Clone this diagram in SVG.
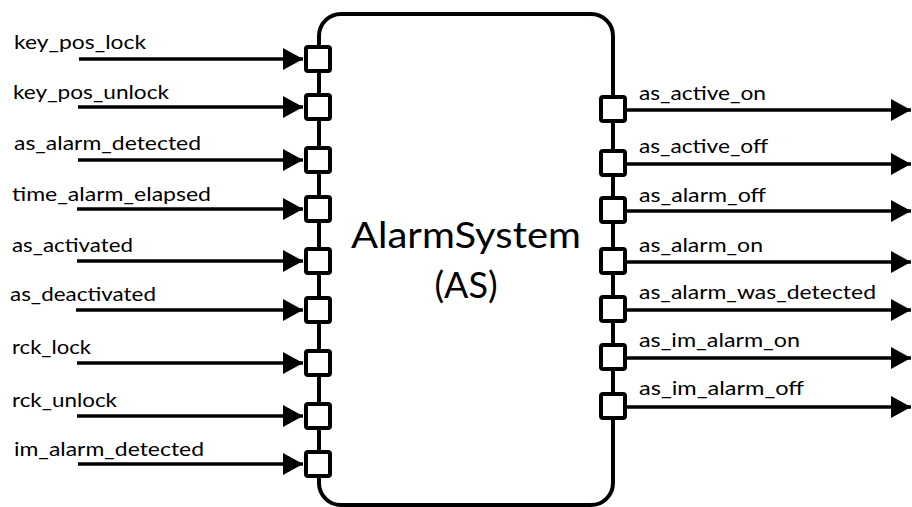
<svg xmlns="http://www.w3.org/2000/svg" width="912" height="507" viewBox="0 0 912 507">
  <style>
    .box { fill: #ffffff; stroke: #000000; stroke-width: 4; }
    .port { fill: #ffffff; stroke: #000000; stroke-width: 4; }
    .wire { stroke: #000000; stroke-width: 3.5; fill: none; marker-end: url(#arrow); }
    .lbl { font-family: Lato, "Open Sans", "Liberation Sans", sans-serif; font-size: 19px; fill: #000000; }
    .title { font-family: Lato, "Open Sans", "Liberation Sans", sans-serif; font-size: 36px; fill: #000000; text-anchor: middle; }
  </style>
  <defs>
    <marker id="arrow" markerUnits="userSpaceOnUse" markerWidth="20" markerHeight="22" refX="20" refY="11" orient="auto">
      <path d="M0,0 L20,11 L0,22 Z" fill="#000000"/>
    </marker>
  </defs>
  <rect width="912" height="507" fill="#ffffff"/>

  <!-- AlarmSystem block with its ports -->
  <g id="alarm-system">
    <rect class="box" x="319" y="14" width="294" height="491" rx="22" ry="22"/>
    <text class="title" x="466" y="248" textLength="230" lengthAdjust="spacingAndGlyphs">AlarmSystem</text>
    <text class="title" x="466" y="298">(AS)</text>
    <!-- input ports -->
    <rect class="port" x="306" y="47" width="24" height="24" rx="2"/>
    <rect class="port" x="306" y="95" width="24" height="24" rx="2"/>
    <rect class="port" x="306" y="148" width="24" height="24" rx="2"/>
    <rect class="port" x="306" y="197" width="24" height="24" rx="2"/>
    <rect class="port" x="306" y="249" width="24" height="24" rx="2"/>
    <rect class="port" x="306" y="298" width="24" height="24" rx="2"/>
    <rect class="port" x="306" y="351" width="24" height="24" rx="2"/>
    <rect class="port" x="306" y="404" width="24" height="24" rx="2"/>
    <rect class="port" x="306" y="452" width="24" height="24" rx="2"/>
    <!-- output ports -->
    <rect class="port" x="601" y="97" width="24" height="24" rx="2"/>
    <rect class="port" x="601" y="151" width="24" height="24" rx="2"/>
    <rect class="port" x="601" y="198" width="24" height="24" rx="2"/>
    <rect class="port" x="601" y="249" width="24" height="24" rx="2"/>
    <rect class="port" x="601" y="297" width="24" height="24" rx="2"/>
    <rect class="port" x="601" y="345" width="24" height="24" rx="2"/>
    <rect class="port" x="601" y="394" width="24" height="24" rx="2"/>
  </g>

  <!-- signal connectors -->
  <g id="connectors">
    <line class="wire" x1="79" y1="59" x2="303" y2="59"/>
    <line class="wire" x1="78" y1="107" x2="303" y2="107"/>
    <line class="wire" x1="78" y1="160" x2="303" y2="160"/>
    <line class="wire" x1="77" y1="209" x2="303" y2="209"/>
    <line class="wire" x1="77" y1="261" x2="303" y2="261"/>
    <line class="wire" x1="76" y1="310" x2="303" y2="310"/>
    <line class="wire" x1="77" y1="363" x2="303" y2="363"/>
    <line class="wire" x1="77" y1="416" x2="303" y2="416"/>
    <line class="wire" x1="78" y1="464" x2="303" y2="464"/>

    <line class="wire" x1="627" y1="110" x2="911" y2="110"/>
    <line class="wire" x1="627" y1="164" x2="911" y2="164"/>
    <line class="wire" x1="627" y1="211" x2="911" y2="211"/>
    <line class="wire" x1="627" y1="262" x2="911" y2="262"/>
    <line class="wire" x1="627" y1="310" x2="911" y2="310"/>
    <line class="wire" x1="627" y1="358" x2="911" y2="358"/>
    <line class="wire" x1="627" y1="407" x2="911" y2="407"/>
  </g>

  <!-- signal labels -->
  <g id="labels">
    <text class="lbl" x="14" y="49" textLength="132" lengthAdjust="spacingAndGlyphs">key_pos_lock</text>
    <text class="lbl" x="13" y="99" textLength="156" lengthAdjust="spacingAndGlyphs">key_pos_unlock</text>
    <text class="lbl" x="14" y="150" textLength="187" lengthAdjust="spacingAndGlyphs">as_alarm_detected</text>
    <text class="lbl" x="12" y="201" textLength="199" lengthAdjust="spacingAndGlyphs">time_alarm_elapsed</text>
    <text class="lbl" x="12" y="252" textLength="121" lengthAdjust="spacingAndGlyphs">as_activated</text>
    <text class="lbl" x="10" y="301" textLength="146" lengthAdjust="spacingAndGlyphs">as_deactivated</text>
    <text class="lbl" x="12" y="354" textLength="79" lengthAdjust="spacingAndGlyphs">rck_lock</text>
    <text class="lbl" x="12" y="407" textLength="105" lengthAdjust="spacingAndGlyphs">rck_unlock</text>
    <text class="lbl" x="14" y="456" textLength="190" lengthAdjust="spacingAndGlyphs">im_alarm_detected</text>

    <text class="lbl" x="639" y="100" textLength="127" lengthAdjust="spacingAndGlyphs">as_active_on</text>
    <text class="lbl" x="639" y="153" textLength="129" lengthAdjust="spacingAndGlyphs">as_active_off</text>
    <text class="lbl" x="639" y="202" textLength="127" lengthAdjust="spacingAndGlyphs">as_alarm_off</text>
    <text class="lbl" x="639" y="252" textLength="124" lengthAdjust="spacingAndGlyphs">as_alarm_on</text>
    <text class="lbl" x="639" y="299" textLength="237" lengthAdjust="spacingAndGlyphs">as_alarm_was_detected</text>
    <text class="lbl" x="639" y="347" textLength="161" lengthAdjust="spacingAndGlyphs">as_im_alarm_on</text>
    <text class="lbl" x="639" y="395" textLength="165" lengthAdjust="spacingAndGlyphs">as_im_alarm_off</text>
  </g>
</svg>
